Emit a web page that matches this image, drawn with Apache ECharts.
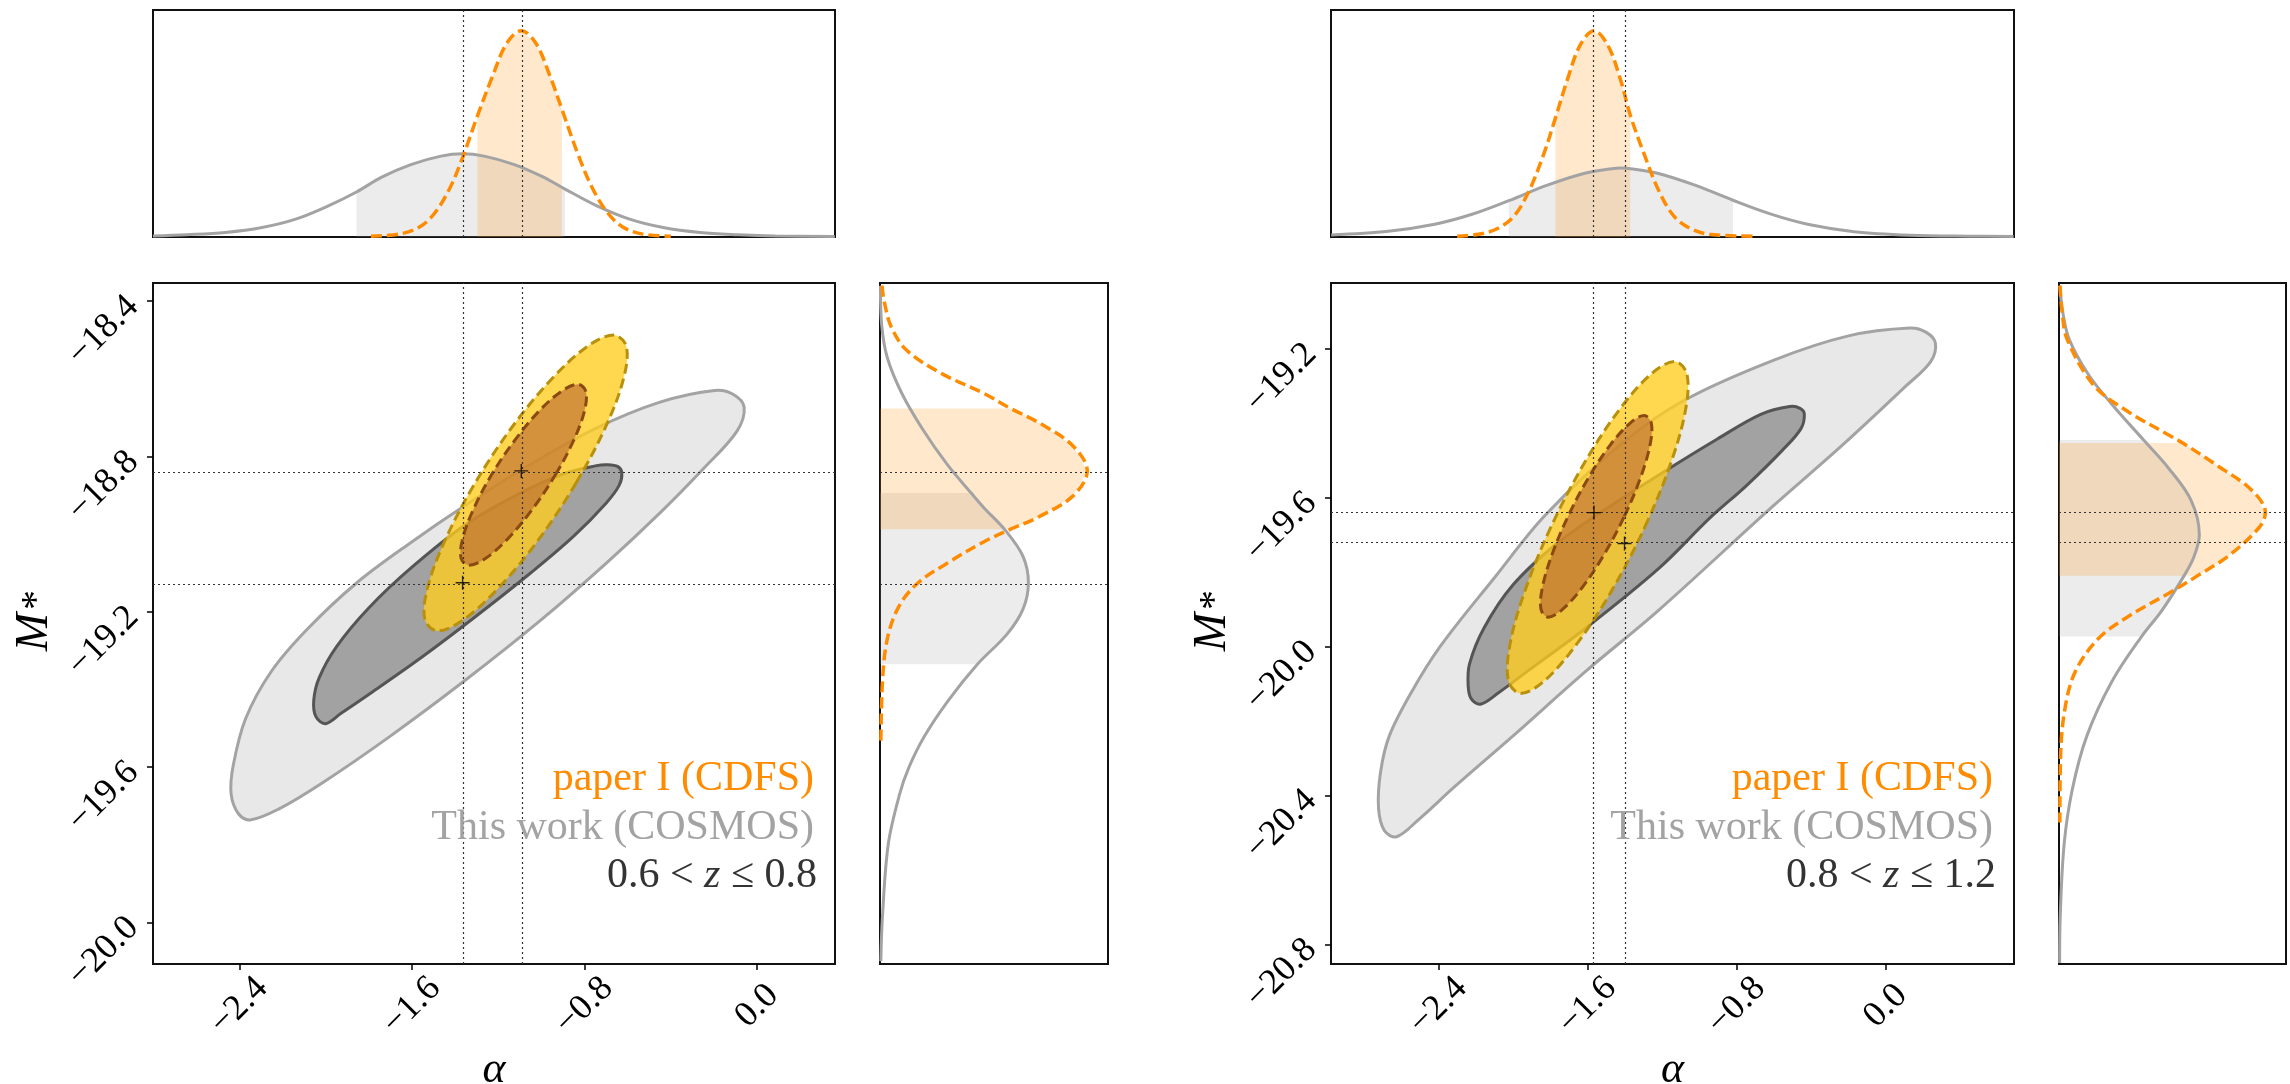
<!DOCTYPE html>
<html>
<head>
<meta charset="utf-8">
<title>Luminosity function parameters: alpha vs M*</title>
<script src="https://cdn.jsdelivr.net/npm/echarts@6/dist/echarts.min.js"></script>
<style>
  html, body { margin: 0; padding: 0; background: #ffffff; }
  #chart { width: 2290px; height: 1084px; }
</style>
</head>
<body>
<div id="chart"></div>
<script>
// ---------------- data ----------------
const alphaTicks = [-2.4, -1.6, -0.8, 0.0];

// 0.6 < z <= 0.8
const lowZ_alphaRange = [-2.8, 0.361];
const lowZ_mRange = [-20.107, -18.353];
const lowZ_mTicks = [-20.0, -19.6, -19.2, -18.8, -18.4];

const lowZ_cosmosOuter = [[-0.196,-18.630],[-0.110,-18.640],[-0.060,-18.673],[-0.094,-18.735],[-0.247,-18.830],[-0.450,-18.945],[-0.700,-19.075],[-1.000,-19.220],[-1.350,-19.375],[-1.700,-19.520],[-2.014,-19.640],[-2.218,-19.708],[-2.350,-19.736],[-2.404,-19.720],[-2.438,-19.669],[-2.428,-19.595],[-2.370,-19.474],[-2.251,-19.353],[-2.082,-19.243],[-1.855,-19.125],[-1.606,-19.022],[-1.350,-18.925],[-1.050,-18.820],[-0.750,-18.728],[-0.450,-18.660]];
const lowZ_cosmosInner = [[-0.695,-18.821],[-0.645,-18.826],[-0.627,-18.843],[-0.640,-18.875],[-0.700,-18.920],[-0.850,-19.005],[-1.050,-19.100],[-1.300,-19.210],[-1.550,-19.315],[-1.780,-19.405],[-1.930,-19.462],[-2.000,-19.488],[-2.045,-19.470],[-2.055,-19.428],[-2.030,-19.370],[-1.950,-19.290],[-1.800,-19.190],[-1.600,-19.085],[-1.350,-18.975],[-1.100,-18.895],[-0.900,-18.845],[-0.750,-18.824]];
const lowZ_cdfsOuter = [[-0.839,-18.868],[-0.701,-18.722],[-0.619,-18.599],[-0.606,-18.516],[-0.665,-18.487],[-0.786,-18.516],[-0.950,-18.599],[-1.133,-18.722],[-1.307,-18.868],[-1.445,-19.014],[-1.527,-19.137],[-1.540,-19.220],[-1.481,-19.249],[-1.360,-19.220],[-1.196,-19.137],[-1.013,-19.014]];
const lowZ_cdfsInner = [[-0.935,-18.847],[-0.850,-18.758],[-0.800,-18.682],[-0.794,-18.632],[-0.831,-18.614],[-0.907,-18.632],[-1.009,-18.682],[-1.123,-18.758],[-1.231,-18.847],[-1.315,-18.936],[-1.365,-19.012],[-1.372,-19.062],[-1.334,-19.080],[-1.258,-19.062],[-1.156,-19.012],[-1.042,-18.936]];

const lowZ_alphaCosmos = [[-2.80,0.005],[-2.645,0.011],[-2.465,0.022],[-2.295,0.046],[-2.135,0.088],[-1.985,0.152],[-1.857,0.218],[-1.74,0.290],[-1.605,0.351],[-1.465,0.392],[-1.365,0.403],[-1.265,0.392],[-1.125,0.351],[-0.99,0.290],[-0.89,0.232],[-0.745,0.152],[-0.595,0.088],[-0.435,0.046],[-0.265,0.022],[-0.085,0.011],[0.085,0.005],[0.36,0.002]];
const lowZ_alphaCdfs = [[-1.79,0.004],[-1.655,0.015],[-1.565,0.048],[-1.495,0.115],[-1.425,0.235],[-1.365,0.385],[-1.297,0.585],[-1.226,0.78],[-1.16,0.94],[-1.093,1.0],[-1.026,0.94],[-0.96,0.78],[-0.905,0.62],[-0.83,0.40],[-0.765,0.24],[-0.695,0.12],[-0.625,0.05],[-0.535,0.015],[-0.40,0.004]];
const lowZ_mCosmos = [[0.002,-18.36],[0.008,-18.46],[0.035,-18.545],[0.105,-18.637],[0.205,-18.729],[0.325,-18.821],[0.44,-18.894],[0.50,-18.931],[0.608,-18.992],[0.690,-19.057],[0.716,-19.125],[0.690,-19.193],[0.612,-19.258],[0.47,-19.335],[0.33,-19.428],[0.215,-19.520],[0.14,-19.600],[0.095,-19.669],[0.040,-19.798],[0.012,-19.984],[0.004,-20.10]];
const lowZ_mCdfs = [[0.01,-18.36],[0.02,-18.40],[0.055,-18.467],[0.13,-18.527],[0.30,-18.587],[0.50,-18.637],[0.63,-18.676],[0.78,-18.717],[0.93,-18.772],[1.0,-18.837],[0.93,-18.902],[0.76,-18.957],[0.63,-18.987],[0.50,-19.020],[0.32,-19.076],[0.18,-19.127],[0.09,-19.187],[0.035,-19.270],[0.012,-19.380],[0.004,-19.544]];

const lowZ_bandAlphaCosmos = [-1.857, -0.89];
const lowZ_bandAlphaCdfs = [-1.297, -0.905];
const lowZ_bandMCosmos = [-19.335, -18.894];
const lowZ_bandMCdfs = [-18.987, -18.676];
const lowZ_bestCosmos = [-1.365, -19.125];
const lowZ_bestCdfs = [-1.093, -18.837];

// 0.8 < z <= 1.2
const highZ_alphaRange = [-2.977, 0.688];
const highZ_mRange = [-20.853, -19.023];
const highZ_mTicks = [-20.8, -20.4, -20.0, -19.6, -19.2];

const highZ_cosmosOuter = [[0.130,-19.144],[0.215,-19.155],[0.266,-19.184],[0.240,-19.235],[0.110,-19.299],[-0.242,-19.463],[-0.613,-19.626],[-1.218,-19.902],[-1.609,-20.066],[-2.000,-20.240],[-2.312,-20.376],[-2.507,-20.465],[-2.625,-20.511],[-2.690,-20.495],[-2.722,-20.434],[-2.711,-20.337],[-2.664,-20.240],[-2.547,-20.124],[-2.390,-19.999],[-2.100,-19.815],[-1.824,-19.645],[-1.413,-19.453],[-1.081,-19.338],[-0.600,-19.230],[-0.200,-19.165]];
const highZ_cosmosInner = [[-0.515,-19.355],[-0.460,-19.360],[-0.437,-19.376],[-0.456,-19.415],[-0.554,-19.472],[-0.749,-19.568],[-0.945,-19.655],[-1.218,-19.790],[-1.609,-19.950],[-1.922,-20.066],[-2.078,-20.124],[-2.175,-20.155],[-2.225,-20.140],[-2.241,-20.105],[-2.234,-20.047],[-2.156,-19.950],[-2.000,-19.834],[-1.765,-19.723],[-1.531,-19.640],[-1.218,-19.539],[-0.906,-19.443],[-0.671,-19.376]];
const highZ_cdfsOuter = [[-1.294,-19.680],[-1.155,-19.509],[-1.075,-19.365],[-1.067,-19.268],[-1.132,-19.234],[-1.260,-19.268],[-1.432,-19.365],[-1.620,-19.509],[-1.798,-19.680],[-1.937,-19.851],[-2.017,-19.995],[-2.025,-20.092],[-1.960,-20.126],[-1.832,-20.092],[-1.661,-19.995],[-1.472,-19.851]];
const highZ_cdfsInner = [[-1.403,-19.650],[-1.316,-19.546],[-1.265,-19.458],[-1.258,-19.400],[-1.296,-19.379],[-1.373,-19.400],[-1.478,-19.458],[-1.595,-19.546],[-1.705,-19.650],[-1.792,-19.754],[-1.843,-19.842],[-1.850,-19.900],[-1.812,-19.921],[-1.735,-19.900],[-1.630,-19.842],[-1.513,-19.754]];

const highZ_alphaCosmos = [[-2.976,0.010],[-2.67,0.028],[-2.42,0.062],[-2.22,0.110],[-2.023,0.176],[-1.82,0.250],[-1.62,0.308],[-1.47,0.331],[-1.42,0.334],[-1.37,0.331],[-1.22,0.308],[-1.02,0.250],[-0.820,0.178],[-0.62,0.112],[-0.42,0.062],[-0.17,0.026],[0.13,0.009],[0.45,0.004],[0.686,0.003]];
const highZ_alphaCdfs = [[-2.30,0.004],[-2.186,0.013],[-2.086,0.04],[-1.996,0.10],[-1.916,0.22],[-1.836,0.40],[-1.773,0.576],[-1.706,0.77],[-1.64,0.93],[-1.566,1.0],[-1.492,0.93],[-1.426,0.77],[-1.371,0.59],[-1.296,0.40],[-1.216,0.22],[-1.136,0.10],[-1.046,0.04],[-0.946,0.013],[-0.70,0.004]];
const highZ_mCosmos = [[0.004,-19.03],[0.018,-19.10],[0.050,-19.175],[0.145,-19.271],[0.255,-19.348],[0.41,-19.445],[0.530,-19.520],[0.640,-19.607],[0.68,-19.70],[0.655,-19.757],[0.61,-19.806],[0.50,-19.902],[0.40,-19.973],[0.255,-20.095],[0.135,-20.240],[0.064,-20.385],[0.025,-20.530],[0.006,-20.724],[0.003,-20.85]];
const highZ_mCdfs = [[0.005,-19.03],[0.015,-19.10],[0.04,-19.175],[0.17,-19.299],[0.33,-19.367],[0.54,-19.434],[0.60,-19.453],[0.76,-19.511],[0.93,-19.578],[1.0,-19.640],[0.97,-19.680],[0.82,-19.757],[0.67,-19.810],[0.54,-19.854],[0.33,-19.921],[0.19,-19.979],[0.08,-20.066],[0.03,-20.163],[0.008,-20.289],[0.004,-20.473]];

const highZ_bandAlphaCosmos = [-2.023, -0.820];
const highZ_bandAlphaCdfs = [-1.773, -1.371];
const highZ_bandMCosmos = [-19.973, -19.445];
const highZ_bandMCdfs = [-19.810, -19.453];
const highZ_bestCosmos = [-1.402, -19.723];
const highZ_bestCdfs = [-1.566, -19.640];

// ---------------- styling ----------------
const FONT = '"Liberation Serif", "Times New Roman", serif';
const GRAY = '#a3a3a3';
const ORANGE = '#ff8c00';
const PLUS = 'path://M6.3,0H7.7V6.3H14V7.7H7.7V14H6.3V7.7H0V6.3H6.3Z';

function fmt(v) {
  const a = Math.abs(v) < 1e-9 ? 0 : v;
  return (a < 0 ? '\u2212' : '') + Math.abs(a).toFixed(1);
}

const grid = [], xAxis = [], yAxis = [], series = [], graphic = [];

function hiddenAxis(gi, min, max) {
  return { type: 'value', gridIndex: gi, min: min, max: max, show: false,
    axisLine: { onZero: false }, splitLine: { show: false } };
}
function tickAxis(gi, range, ticks, isX) {
  const label = isX
    ? { customValues: ticks, rotate: 45, align: 'center', verticalAlign: 'middle', margin: 42 }
    : { customValues: ticks, rotate: 45, margin: 20 };
  return {
    type: 'value', gridIndex: gi, min: range[0], max: range[1],
    axisLine: { show: false, onZero: false }, splitLine: { show: false },
    axisTick: { show: true, length: 6, customValues: ticks, lineStyle: { color: '#000', width: 1.5 } },
    axisLabel: Object.assign(label, { formatter: fmt, fontFamily: FONT, fontSize: 36, color: '#000' })
  };
}

// closed shape drawn through the axis scales
function shapeSeries(points, gi, style, z, smooth) {
  return {
    type: 'custom', coordinateSystem: 'cartesian2d', xAxisIndex: gi, yAxisIndex: gi,
    data: points, z: z, silent: true, animation: false,
    renderItem: function (params, api) {
      if (params.dataIndex !== 0) return null;
      return {
        type: 'polygon',
        shape: { points: points.map(function (p) { return api.coord(p); }), smooth: smooth || 0 },
        style: style
      };
    }
  };
}
function curveSeries(data, gi, color, width, dash, z) {
  return {
    type: 'line', xAxisIndex: gi, yAxisIndex: gi, data: data, symbol: 'none', showSymbol: false,
    smooth: 0.35, silent: true, z: z, animation: false,
    lineStyle: { color: color, width: width, type: dash || 'solid' }
  };
}
function guideSeries(gi, lines, points) {
  return {
    type: 'scatter', xAxisIndex: gi, yAxisIndex: gi, data: points || [], symbol: PLUS, symbolSize: 14,
    itemStyle: { color: '#000' }, z: 30, silent: true, animation: false,
    markLine: {
      silent: true, symbol: ['none', 'none'], animation: false, label: { show: false },
      lineStyle: { color: '#333', width: 1.2, type: [2, 3] }, data: lines
    }
  };
}
// area under a horizontal-axis marginal between band edges
function bandUnderX(curve, band) {
  const inside = curve.filter(function (p) { return p[0] >= band[0] - 1e-9 && p[0] <= band[1] + 1e-9; });
  return [[band[0], 0]].concat(inside, [[band[1], 0]]);
}
// area beside a vertical-axis marginal between band edges
function bandBesideY(curve, band) {
  const inside = curve.filter(function (p) { return p[1] >= band[0] - 1e-9 && p[1] <= band[1] + 1e-9; });
  return [[0, band[1]]].concat(inside, [[0, band[0]]]);
}

function addPanel(p) {
  const g = grid.length;
  const box = { show: true, borderColor: '#111', borderWidth: 2, backgroundColor: '#fff' };
  grid.push(Object.assign({ left: p.left, top: 10, width: p.width, height: 227 }, box));
  grid.push(Object.assign({ left: p.left, top: 283, width: p.width, height: 681 }, box));
  grid.push(Object.assign({ left: p.sideLeft, top: 283, width: p.sideWidth, height: 681 }, box));

  xAxis.push(hiddenAxis(g, p.alphaRange[0], p.alphaRange[1]));
  yAxis.push(hiddenAxis(g, 0, 1.1));
  xAxis.push(tickAxis(g + 1, p.alphaRange, alphaTicks, true));
  yAxis.push(tickAxis(g + 1, p.mRange, p.mTicks, false));
  xAxis.push(hiddenAxis(g + 2, 0, 1.1));
  yAxis.push(hiddenAxis(g + 2, p.mRange[0], p.mRange[1]));

  // alpha marginal
  series.push(shapeSeries(bandUnderX(p.alphaCosmos, p.bandAlphaCosmos), g, { fill: 'rgba(160,160,160,0.2)' }, 1));
  series.push(shapeSeries(bandUnderX(p.alphaCdfs, p.bandAlphaCdfs), g, { fill: 'rgba(255,140,0,0.2)' }, 2));
  series.push(curveSeries(p.alphaCosmos, g, GRAY, 3, null, 3));
  series.push(curveSeries(p.alphaCdfs, g, ORANGE, 3.5, [11, 5], 4));
  series.push(guideSeries(g, [{ xAxis: p.bestCosmos[0] }, { xAxis: p.bestCdfs[0] }], []));

  // joint contours
  series.push(shapeSeries(p.cosmosOuter, g + 1, { fill: '#e8e8e8', stroke: GRAY, lineWidth: 3 }, 1, 0.35));
  series.push(shapeSeries(p.cosmosInner, g + 1, { fill: '#a2a2a2', stroke: '#555555', lineWidth: 3 }, 2, 0.35));
  series.push(shapeSeries(p.cdfsOuter, g + 1, { fill: 'rgba(255,205,30,0.78)', stroke: '#b8900c', lineWidth: 3, lineDash: [10, 5] }, 3, 0.35));
  series.push(shapeSeries(p.cdfsInner, g + 1, { fill: 'rgba(185,100,50,0.6)', stroke: '#8b4a12', lineWidth: 3, lineDash: [10, 5] }, 4, 0.35));
  series.push(guideSeries(g + 1, [
    { xAxis: p.bestCosmos[0] }, { xAxis: p.bestCdfs[0] },
    { yAxis: p.bestCosmos[1] }, { yAxis: p.bestCdfs[1] }
  ], [p.bestCosmos, p.bestCdfs]));

  // M* marginal
  series.push(shapeSeries(bandBesideY(p.mCosmos, p.bandMCosmos), g + 2, { fill: 'rgba(160,160,160,0.2)' }, 1));
  series.push(shapeSeries(bandBesideY(p.mCdfs, p.bandMCdfs), g + 2, { fill: 'rgba(255,140,0,0.2)' }, 2));
  series.push(curveSeries(p.mCosmos, g + 2, GRAY, 3, null, 3));
  series.push(curveSeries(p.mCdfs, g + 2, ORANGE, 3.5, [11, 5], 4));
  series.push(guideSeries(g + 2, [{ yAxis: p.bestCosmos[1] }, { yAxis: p.bestCdfs[1] }], []));

  // texts
  const tx = p.left + p.width - 21;
  graphic.push({ type: 'text', x: tx, y: 779, z: 100, style: { text: 'paper I (CDFS)', fill: ORANGE, fontSize: 42, fontFamily: FONT, align: 'right', verticalAlign: 'middle' } });
  graphic.push({ type: 'text', x: tx, y: 828, z: 100, style: { text: 'This work (COSMOS)', fill: GRAY, fontSize: 42, fontFamily: FONT, align: 'right', verticalAlign: 'middle' } });
  graphic.push({ type: 'text', x: tx + 3, y: 876, z: 100, style: {
    text: '{n|' + p.zLo + ' < }{z|z}{n| \u2264 ' + p.zHi + '}', align: 'right', verticalAlign: 'middle',
    rich: {
      n: { fill: '#333', fontSize: 42, fontFamily: FONT },
      z: { fill: '#333', fontSize: 42, fontFamily: FONT, fontStyle: 'italic' }
    } } });
  graphic.push({ type: 'text', x: p.left + p.width / 2, y: 1070, z: 100, style: { text: '\u03b1', fill: '#000', fontSize: 44, fontStyle: 'italic', fontFamily: FONT, align: 'center', verticalAlign: 'middle' } });
  graphic.push({ type: 'text', x: p.left - 118, y: 632, rotation: Math.PI / 2, z: 100, style: { text: 'M', fill: '#000', fontSize: 46, fontStyle: 'italic', fontFamily: FONT, align: 'center', verticalAlign: 'middle' } });
  graphic.push({ type: 'text', x: p.left - 116, y: 600, rotation: Math.PI / 2, z: 100, style: { text: '*', fill: '#000', fontSize: 40, fontFamily: FONT, align: 'center', verticalAlign: 'middle' } });
}

addPanel({
  left: 153, width: 682, sideLeft: 880, sideWidth: 228,
  alphaRange: lowZ_alphaRange, mRange: lowZ_mRange, mTicks: lowZ_mTicks,
  cosmosOuter: lowZ_cosmosOuter, cosmosInner: lowZ_cosmosInner, cdfsOuter: lowZ_cdfsOuter, cdfsInner: lowZ_cdfsInner,
  alphaCosmos: lowZ_alphaCosmos, alphaCdfs: lowZ_alphaCdfs, mCosmos: lowZ_mCosmos, mCdfs: lowZ_mCdfs,
  bandAlphaCosmos: lowZ_bandAlphaCosmos, bandAlphaCdfs: lowZ_bandAlphaCdfs,
  bandMCosmos: lowZ_bandMCosmos, bandMCdfs: lowZ_bandMCdfs,
  bestCosmos: lowZ_bestCosmos, bestCdfs: lowZ_bestCdfs, zLo: '0.6', zHi: '0.8'
});
addPanel({
  left: 1331, width: 683, sideLeft: 2059, sideWidth: 227,
  alphaRange: highZ_alphaRange, mRange: highZ_mRange, mTicks: highZ_mTicks,
  cosmosOuter: highZ_cosmosOuter, cosmosInner: highZ_cosmosInner, cdfsOuter: highZ_cdfsOuter, cdfsInner: highZ_cdfsInner,
  alphaCosmos: highZ_alphaCosmos, alphaCdfs: highZ_alphaCdfs, mCosmos: highZ_mCosmos, mCdfs: highZ_mCdfs,
  bandAlphaCosmos: highZ_bandAlphaCosmos, bandAlphaCdfs: highZ_bandAlphaCdfs,
  bandMCosmos: highZ_bandMCosmos, bandMCdfs: highZ_bandMCdfs,
  bestCosmos: highZ_bestCosmos, bestCdfs: highZ_bestCdfs, zLo: '0.8', zHi: '1.2'
});

const chart = echarts.init(document.getElementById('chart'), null, { renderer: 'canvas', width: 2290, height: 1084 });
chart.setOption({
  backgroundColor: '#ffffff',
  animation: false,
  grid: grid, xAxis: xAxis, yAxis: yAxis, series: series, graphic: graphic
});
</script>
</body>
</html>
